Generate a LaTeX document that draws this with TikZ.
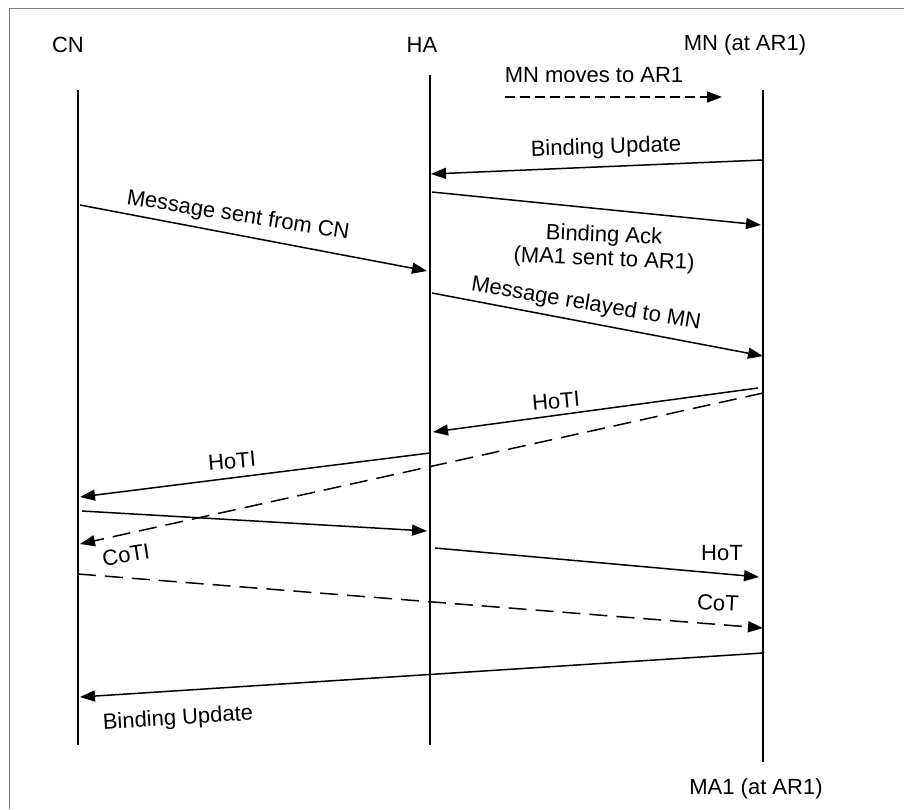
\documentclass[tikz,border=0pt]{standalone}
\usepackage{fontspec}
\setmainfont{Liberation Sans}
\usetikzlibrary{arrows.meta}
\begin{document}
\begin{tikzpicture}[x=1pt,y=-1pt,line width=1.5pt,
  msg/.style={-{Triangle[length=15pt,width=11pt]}},
  dmsg/.style={msg,dash pattern=on 18pt off 9pt},
  smalldash/.style={msg,dash pattern=on 10pt off 5pt},
  lbl/.style={font=\fontsize{22}{25}\selectfont,inner sep=0pt},
  life/.style={line width=1.5pt},
  frame/.style={gray,line width=0.6pt}]
\useasboundingbox (0,0) rectangle (904,809);
\coordinate (fb) at (9,809);
\coordinate (ftl) at (9,8);
\coordinate (ftr) at (904,8);
\draw[frame] (fb) -- (ftl) -- (ftr);
% heads
\node[lbl] (cnl) at (68,45) {CN};
\node[lbl] (hal) at (422,45) {HA};
\node[lbl] (mnl) at (745,45) {MN (at AR1)};
\node[lbl] (ma1) at (756,789) {MA1 (at AR1)};
% lifelines
\coordinate (cnT) at (78,90);  \coordinate (cnB) at (78,745);
\coordinate (haT) at (430,75); \coordinate (haB) at (430,745);
\coordinate (mnT) at (763,90); \coordinate (mnB) at (763,762);
\draw[life] (cnT) -- (cnB);
\draw[life] (haT) -- (haB);
\draw[life] (mnT) -- (mnB);
% MN moves
\node[lbl] (mv) at (594,75) {MN moves to AR1};
\coordinate (mvS) at (505,97); \coordinate (mvE) at (722,97);
\draw[smalldash] (mvS) -- (mvE);
% message end points
\coordinate (bu1s) at (763,160); \coordinate (bu1e) at (431,174);
\coordinate (bas) at (432,192);  \coordinate (bae) at (761,225);
\coordinate (mss) at (80,205);   \coordinate (mse) at (427,271);
\coordinate (mrs) at (432,293);  \coordinate (mre) at (763,356);
\coordinate (h1s) at (758,388);  \coordinate (h1e) at (433,432);
\coordinate (cos) at (763,393);  \coordinate (coe) at (80,544);
\coordinate (h2s) at (430,453);  \coordinate (h2e) at (80,497);
\coordinate (xs) at (82,511);    \coordinate (xe) at (427,531);
\coordinate (hts) at (435,548);  \coordinate (hte) at (759,577);
\coordinate (cts) at (78,574);   \coordinate (cte) at (763,628);
\coordinate (b2s) at (763,653);  \coordinate (b2e) at (80,697);
\draw[msg] (bu1s) -- (bu1e);
\draw[msg] (bas) -- (bae);
\draw[msg] (mss) -- (mse);
\draw[msg] (mrs) -- (mre);
\draw[msg] (h1s) -- (h1e);
\draw[dmsg] (cos) -- (coe);
\draw[msg] (h2s) -- (h2e);
\draw[msg] (xs) -- (xe);
\draw[msg] (hts) -- (hte);
\draw[dmsg] (cts) -- (cte);
\draw[msg] (b2s) -- (b2e);
% labels
\node[lbl,rotate=2] (l1) at (606,148) {Binding Update};
\node[lbl,rotate=-2.5] (l2) at (604,236) {Binding Ack};
\node[lbl,rotate=-2.5] (l3) at (604,260) {(MA1 sent to AR1)};
\node[lbl,rotate=-9] (l4) at (238,216) {Message sent from CN};
\node[lbl,rotate=-9.5] (l5) at (586,304) {Message relayed to MN};
\node[lbl,rotate=5] (l6) at (556,401) {HoTI};
\node[lbl,rotate=9] (l7) at (126,555) {CoTI};
\node[lbl,rotate=5] (l8) at (232,461) {HoTI};
\node[lbl] (l9) at (722,553) {HoT};
\node[lbl,rotate=-3] (l10) at (718,603) {CoT};
\node[lbl,rotate=3.5] (l11) at (178,719) {Binding Update};
\end{tikzpicture}
\end{document}
